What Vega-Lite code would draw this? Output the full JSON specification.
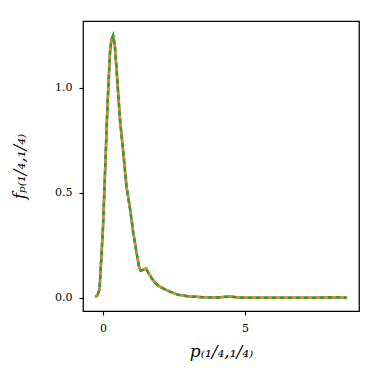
{
  "$schema": "https://vega.github.io/schema/vega-lite/v6.json",
  "autosize": "none",
  "width": 276,
  "height": 290,
  "padding": {"left": 83, "top": 21, "right": 23, "bottom": 71},
  "background": "white",
  "config": {
    "view": {"stroke": "black", "strokeWidth": 1.25},
    "axis": {"grid": false, "domain": false, "tickColor": "black", "tickSize": 4, "tickWidth": 1.1, "labelFont": "DejaVu Serif", "labelFontSize": 11, "labelColor": "black", "titleFont": "DejaVu Serif", "titleFontSize": 17, "titleFontWeight": "normal", "titleColor": "black", "titleFontStyle": "italic"}
  },
  "data": {"values": [
    {"x": -0.28, "y": 0.005}, {"x": -0.2, "y": 0.01}, {"x": -0.12, "y": 0.04}, {"x": -0.06, "y": 0.18},
    {"x": 0.0, "y": 0.33}, {"x": 0.035, "y": 0.45}, {"x": 0.1, "y": 0.69}, {"x": 0.15, "y": 0.88},
    {"x": 0.19, "y": 1.0}, {"x": 0.25, "y": 1.17}, {"x": 0.3, "y": 1.23}, {"x": 0.36, "y": 1.25},
    {"x": 0.42, "y": 1.2}, {"x": 0.48, "y": 1.09}, {"x": 0.6, "y": 0.85}, {"x": 0.72, "y": 0.69},
    {"x": 0.83, "y": 0.53}, {"x": 0.95, "y": 0.43}, {"x": 1.07, "y": 0.31}, {"x": 1.19, "y": 0.21},
    {"x": 1.27, "y": 0.15}, {"x": 1.33, "y": 0.13}, {"x": 1.42, "y": 0.135}, {"x": 1.52, "y": 0.14},
    {"x": 1.6, "y": 0.12}, {"x": 1.71, "y": 0.095}, {"x": 1.85, "y": 0.07}, {"x": 2.0, "y": 0.054},
    {"x": 2.2, "y": 0.04}, {"x": 2.36, "y": 0.03}, {"x": 2.65, "y": 0.015}, {"x": 3.0, "y": 0.008},
    {"x": 3.5, "y": 0.004}, {"x": 4.0, "y": 0.002}, {"x": 4.45, "y": 0.007}, {"x": 4.8, "y": 0.002},
    {"x": 5.5, "y": 0.001}, {"x": 6.5, "y": 0.001}, {"x": 7.5, "y": 0.001}, {"x": 8.2, "y": 0.004},
    {"x": 8.58, "y": 0.001}
  ]},
  "encoding": {
    "x": {"field": "x", "type": "quantitative", "scale": {"domain": [-0.7, 9.01], "nice": false, "zero": false},
      "axis": {"values": [0, 5], "format": "d", "title": "p₍₁/₄,₁/₄₎", "titlePadding": 10, "labelPadding": 7}},
    "y": {"field": "y", "type": "quantitative", "scale": {"domain": [-0.062, 1.319], "nice": false, "zero": false},
      "axis": {"values": [0, 0.5, 1], "format": ".1f", "title": "fₚ₍₁/₄,₁/₄₎", "titlePadding": 26, "labelPadding": 7}}
  },
  "layer": [
    {"mark": {"type": "line", "color": "#1f77b4", "strokeWidth": 2.5, "clip": true}},
    {"mark": {"type": "line", "color": "#ff7f0e", "strokeWidth": 2.5, "strokeDash": [4, 4], "clip": true}},
    {"mark": {"type": "line", "color": "#2ca02c", "strokeWidth": 2.5, "strokeDash": [4, 4], "strokeDashOffset": 4, "clip": true}}
  ]
}
